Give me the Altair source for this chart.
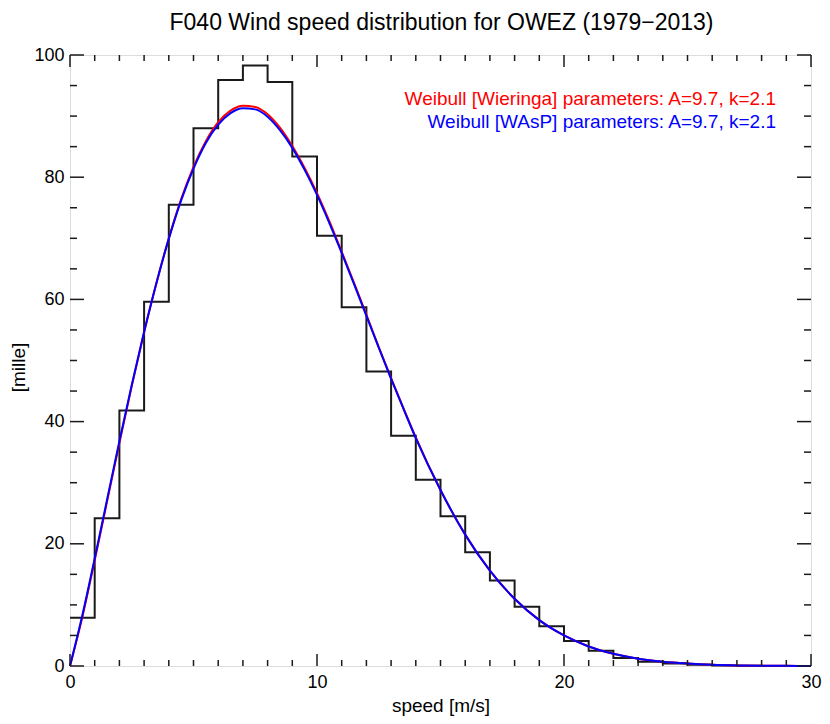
import altair as alt
import pandas as pd

# ---------------- data ----------------
bin_left = [0, 1, 2, 3, 4, 5, 6, 7, 8, 9, 10, 11, 12, 13, 14,
            15, 16, 17, 18, 19, 20, 21, 22, 23, 24, 25, 26, 27, 28, 29]
hist_mille = [7.9, 24.2, 41.8, 59.6, 75.5, 88.0, 95.9, 98.3, 95.6, 83.4,
              70.4, 58.7, 48.2, 37.7, 30.5, 24.5, 18.6, 14.0, 9.7, 6.5,
              4.1, 2.5, 1.3, 0.7, 0.4, 0.2, 0.1, 0.05, 0.02, 0.01]

curve_speed = [0, 0.5, 1, 1.5, 2, 2.5, 3, 3.5, 4, 4.5, 5, 5.5, 6, 6.5, 7, 7.5,
               8, 8.5, 9, 9.5, 10, 10.5, 11, 11.5, 12, 12.5, 13, 13.5, 14,
               15, 16, 17, 18, 19, 20, 21, 22, 23, 24, 25, 26, 27, 28, 29, 30]
wieringa_mille = [0, 8.0, 17.3, 26.9, 36.5, 45.8, 54.6, 62.7, 70.0, 76.4, 81.7,
                  85.9, 89.0, 90.9, 91.7, 91.5, 90.3, 88.1, 85.1, 81.5, 77.4,
                  72.8, 67.8, 62.7, 57.5, 52.2, 47.1, 42.2, 37.4, 28.8, 21.5,
                  15.6, 11.0, 7.5, 5.0, 3.2, 2.0, 1.2, 0.7, 0.4, 0.2, 0.1,
                  0.06, 0.03, 0.01]
wasp_mille = [0, 8.3, 17.6, 27.2, 36.8, 46.0, 54.7, 62.7, 69.9, 76.2, 81.4,
              85.6, 88.6, 90.5, 91.3, 91.1, 89.9, 87.7, 84.8, 81.2, 77.1,
              72.5, 67.6, 62.5, 57.3, 52.1, 47.0, 42.1, 37.3, 28.8, 21.5,
              15.6, 11.0, 7.5, 5.0, 3.2, 2.0, 1.2, 0.7, 0.4, 0.2, 0.1,
              0.06, 0.03, 0.01]

x_major = [0, 10, 20, 30]
x_minor = [1, 2, 3, 4, 5, 6, 7, 8, 9, 11, 12, 13, 14, 15, 16, 17, 18, 19,
           21, 22, 23, 24, 25, 26, 27, 28, 29]
y_major = [0, 20, 40, 60, 80, 100]
y_minor = [5, 10, 15, 25, 30, 35, 45, 50, 55, 65, 70, 75, 85, 90, 95]

title_text = "F040 Wind speed distribution for OWEZ (1979\u22122013)"
label_wieringa = "Weibull [Wieringa] parameters: A=9.7, k=2.1"
label_wasp = "Weibull [WAsP] parameters: A=9.7, k=2.1"
x_title = "speed [m/s]"
y_title = "[mille]"

# ---------------- chart ----------------
W, H = 741, 611
FONT = "Liberation Sans"
INK = "#1a1a1a"

xs = alt.Scale(domain=[0, 30], nice=False, zero=False)
ys = alt.Scale(domain=[0, 100], nice=False, zero=False)

hist_df = pd.DataFrame({"speed": bin_left + [30],
                        "mille": hist_mille + [hist_mille[-1]]})
curve_df = pd.DataFrame({"speed": curve_speed,
                         "wieringa": wieringa_mille,
                         "wasp": wasp_mille})

x_axis = alt.Axis(values=x_major, title=x_title, ticks=False, domain=False,
                  grid=False, labelFontSize=18, labelPadding=7, labelFont=FONT,
                  labelColor="black", labelFlush=False, titleFont=FONT,
                  titleFontSize=19, titleFontWeight="normal", titleColor="black",
                  titleBaseline="alphabetic", titleY=45)
y_axis = alt.Axis(values=y_major, title=y_title, ticks=False, domain=False,
                  grid=False, labelFontSize=18, labelPadding=6, labelFont=FONT,
                  labelColor="black", labelFlush=False, titleFont=FONT,
                  titleFontSize=19, titleFontWeight="normal", titleColor="black",
                  titleBaseline="alphabetic", titleX=-46, titleY=312)

hist = alt.Chart(hist_df).mark_line(
    interpolate="step-after", color=INK, strokeWidth=2
).encode(
    x=alt.X("speed:Q", scale=xs, axis=x_axis),
    y=alt.Y("mille:Q", scale=ys, axis=y_axis),
)

red = alt.Chart(curve_df).mark_line(
    interpolate="monotone", color="#ff0000", strokeWidth=2
).encode(
    x=alt.X("speed:Q", scale=xs, axis=x_axis),
    y=alt.Y("wieringa:Q", scale=ys, axis=y_axis),
)
blue = alt.Chart(curve_df).mark_line(
    interpolate="monotone", color="#0000ff", strokeWidth=2
).encode(
    x=alt.X("speed:Q", scale=xs, axis=x_axis),
    y=alt.Y("wasp:Q", scale=ys, axis=y_axis),
)


def xticks(vals, length, top):
    df = pd.DataFrame({"v": vals})
    if top:
        yy, yy2 = alt.value(0), alt.value(length)
    else:
        yy, yy2 = alt.value(H), alt.value(H - length)
    return alt.Chart(df).mark_rule(color=INK, strokeWidth=1.5).encode(
        x=alt.X("v:Q", scale=xs, axis=x_axis), y=yy, y2=yy2)


def yticks(vals, length, right):
    df = pd.DataFrame({"v": vals})
    if right:
        xx, xx2 = alt.value(W), alt.value(W - length)
    else:
        xx, xx2 = alt.value(0), alt.value(length)
    return alt.Chart(df).mark_rule(color=INK, strokeWidth=1.5).encode(
        y=alt.Y("v:Q", scale=ys, axis=y_axis), x=xx, x2=xx2)


ticks = [
    xticks(x_minor, 6, False), xticks(x_major, 12, False),
    xticks(x_minor, 6, True), xticks(x_major, 12, True),
    yticks(y_minor, 7, False), yticks(y_major, 14, False),
    yticks(y_minor, 7, True), yticks(y_major, 14, True),
]

leg_red = alt.Chart(pd.DataFrame({"t": [label_wieringa]})).mark_text(
    align="right", baseline="alphabetic", font=FONT, fontSize=19, color="#ff0000"
).encode(text="t:N", x=alt.value(706), y=alt.value(49.5))
leg_blue = alt.Chart(pd.DataFrame({"t": [label_wasp]})).mark_text(
    align="right", baseline="alphabetic", font=FONT, fontSize=19, color="#0000ff"
).encode(text="t:N", x=alt.value(706), y=alt.value(73))

title = alt.Chart(pd.DataFrame({"t": [title_text]})).mark_text(
    align="center", baseline="alphabetic", font=FONT, fontSize=23, color="black"
).encode(text="t:N", x=alt.value(W / 2 + 1), y=alt.value(-25))

chart = alt.layer(hist, red, blue, *ticks, leg_red, leg_blue, title).properties(
    width=W, height=H,
    autosize=alt.AutoSizeParams(type="none"),
    padding={"left": 62, "top": 47, "right": 11, "bottom": 50},
    background="white",
).configure_view(stroke=INK, strokeWidth=2).configure(font=FONT)

chart.save("out.html", embed_options={"renderer": "svg", "actions": False})
